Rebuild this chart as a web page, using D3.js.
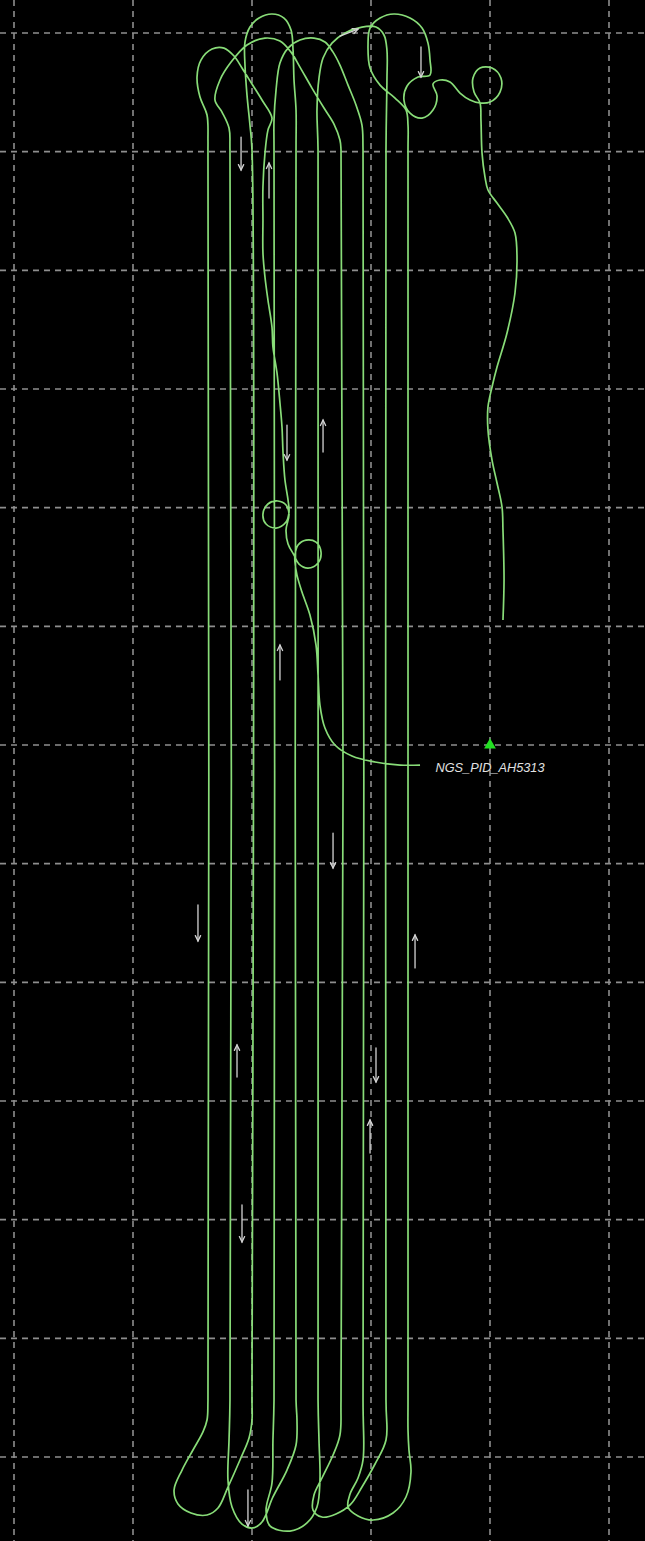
<!DOCTYPE html>
<html>
<head>
<meta charset="utf-8">
<script src="https://cdn.jsdelivr.net/npm/d3@7"></script>
<style>
  html, body { margin: 0; padding: 0; background: #000; }
  svg { display: block; }
</style>
</head>
<body>
<svg id="map" width="645" height="1541"></svg>
<script>
// Grid (local easting / northing, metres)
const gridEast = [0, 100, 200, 300, 400, 500];
const gridNorth = [0, 100, 200, 300, 400, 500, 600, 700, 800, 900, 1000, 1100, 1200];

// Survey lines: easting of each line and the northing where each straight run ends
const lineEast = [163.0, 181.5, 200.0, 218.5, 237.0, 255.5, 274.8, 293.3, 312.6, 331.1];
const lineTopN = 1101.4;
const lineBotN = 48.0;

// Order the lines were flown: [line index, heading]
const lineOrder = [[0, "S"], [2, "N"], [4, "S"], [1, "N"], [6, "S"], [8, "N"], [5, "S"], [3, "N"], [7, "S"], [9, "N"]];

// Inbound leg from the mark, two orbits, then up to the first line
const approachLeg = [
  [341.2, 583.1], [324.4, 583.1], [303.4, 585.7], [284.0, 590.7], [269.7, 600.0], [261.3, 614.3],
  [257.1, 633.7], [255.5, 659.0], [253.8, 684.2], [248.7, 709.5], [242.0, 728.9], [237.8, 743.2],
  [236.1, 754.2], [236.1, 760.1], [238.7, 768.5], [245.4, 772.7], [253.8, 771.0], [258.0, 762.6],
  [255.5, 753.4], [247.1, 749.1], [239.5, 752.5], [235.3, 760.1], [230.3, 769.4], [228.6, 781.2],
  [231.1, 794.6], [228.6, 802.2], [221.8, 805.6], [213.4, 803.1], [209.2, 794.6], [211.8, 786.2],
  [220.2, 782.8], [228.6, 787.9], [231.1, 796.3], [230.3, 806.4], [227.7, 823.3], [226.1, 846.0],
  [225.2, 868.0], [223.5, 888.2], [221.0, 913.5], [217.6, 935.4], [216.8, 952.2], [213.4, 975.0],
  [210.9, 994.4], [209.2, 1014.6], [209.2, 1042.4], [209.2, 1070.2], [210.9, 1098.8], [213.4, 1118.2],
  [216.8, 1128.3], [208.4, 1143.5], [200.0, 1157.0], [191.6, 1170.5], [184.9, 1180.6], [176.5, 1187.3],
  [166.4, 1186.5], [157.1, 1177.2], [153.8, 1162.9], [156.3, 1146.0], [162.2, 1130.9], [163.0, 1109.8]
];

// Turns at the south end
const turnS1 = [[162.2, 31.2], [158.8, 21.1], [150.4, 5.9], [141.2, -11.0], [134.5, -27.8], [137.8, -39.6],
  [148.7, -47.2], [162.2, -48.9], [171.4, -43.0], [179.8, -25.3], [189.9, -2.5], [197.5, 16.0], [200.0, 31.2]];
const turnS2 = [[237.8, 31.2], [237.0, 10.1], [229.4, -11.0], [217.6, -33.7], [208.4, -54.8], [200.8, -59.8],
  [191.6, -56.5], [183.2, -42.1], [179.8, -19.4], [180.7, 14.3]];
const turnS3 = [[273.9, 18.5], [268.1, 1.7], [258.8, -17.7], [252.1, -32.0], [251.3, -44.7], [258.8, -50.6],
  [270.6, -48.0], [282.4, -40.4], [292.4, -25.3], [303.4, -5.9], [312.6, 14.3]];
const turnS4 = [[256.3, 14.3], [257.1, -19.4], [254.6, -42.1], [246.2, -55.6], [231.9, -62.4], [215.1, -58.1],
  [211.8, -44.7], [216.8, -21.9], [217.6, 14.3]];
const turnS5 = [[293.3, -2.5], [289.1, -17.7], [282.4, -31.2], [280.7, -42.1], [289.1, -49.7], [301.7, -53.1],
  [318.5, -47.2], [329.4, -33.7], [333.6, -12.6], [331.9, 5.9], [331.1, 22.8]];

// Turns at the north end
const turnN1 = [[198.3, 1122.4], [195.8, 1147.7], [194.1, 1173.0], [194.1, 1192.4], [198.3, 1205.0], [205.9, 1212.6],
  [216.8, 1216.0], [226.9, 1212.6], [232.8, 1202.5], [234.5, 1185.6], [235.3, 1160.4], [237.0, 1135.1]];
const turnN2 = [[180.7, 1119.9], [174.8, 1133.4], [168.9, 1143.5], [173.1, 1160.4], [182.4, 1175.5], [195.8, 1189.9],
  [210.9, 1195.7], [223.5, 1193.2], [232.8, 1183.9], [240.3, 1171.3], [250.4, 1153.6], [260.5, 1136.8],
  [268.9, 1123.3], [273.9, 1109.8]];
const turnN3 = [[313.4, 1160.4], [313.4, 1185.6], [310.9, 1198.3], [304.2, 1205.0], [292.4, 1205.0], [278.2, 1200.0],
  [267.2, 1191.5], [259.7, 1178.9], [256.3, 1162.0], [254.6, 1135.1]];
const turnN4 = [[218.5, 1126.6], [220.2, 1151.9], [223.5, 1174.7], [230.3, 1187.3], [240.3, 1194.1], [252.1, 1195.7],
  [261.3, 1192.4], [268.1, 1183.9], [273.9, 1173.0], [280.7, 1156.1], [287.4, 1139.3], [292.4, 1122.4]];

// Outbound leg: loop, two orbits, then south-east
const exitLeg = [
  [331.1, 1122.4], [329.4, 1135.1], [320.2, 1145.2], [307.6, 1156.1], [299.2, 1170.5], [297.5, 1189.9],
  [299.2, 1204.2], [307.6, 1212.6], [319.3, 1216.0], [332.8, 1212.6], [342.9, 1204.2], [347.9, 1191.5],
  [349.6, 1177.2], [349.6, 1164.6], [339.5, 1162.9], [330.3, 1155.3], [327.7, 1143.5], [332.8, 1132.5],
  [342.9, 1128.3], [352.1, 1135.1], [355.5, 1146.9], [352.1, 1157.0], [358.0, 1160.4], [366.4, 1158.7],
  [374.8, 1149.4], [383.2, 1143.5], [391.6, 1141.0], [400.0, 1141.8], [408.4, 1150.2], [409.2, 1162.0],
  [401.7, 1170.5], [391.6, 1170.5], [385.7, 1162.0], [386.6, 1150.2], [391.6, 1141.0], [392.4, 1126.6],
  [393.3, 1098.8], [395.8, 1078.6], [398.3, 1067.7], [405.9, 1056.7], [414.3, 1044.9], [421.0, 1031.4],
  [422.7, 1008.7], [421.0, 980.9], [414.3, 947.2], [405.9, 918.5], [401.7, 901.7], [398.3, 884.8],
  [398.3, 865.4], [401.7, 840.1], [405.9, 820.8], [410.1, 800.5], [410.9, 781.2], [411.8, 739.0], [410.9, 705.3]
];

// Heading arrows: [tail easting, tail northing, head easting, head northing]
const arrows = [
  [190.8, 1112.3, 190.8, 1084.5], [214.3, 1060.9, 214.3, 1090.4], [229.4, 869.6, 229.4, 840.1],
  [259.7, 846.9, 259.7, 873.8], [223.5, 654.8, 223.5, 684.2], [268.1, 525.8, 268.1, 496.3],
  [154.6, 465.2, 154.6, 434.8], [337.0, 412.1, 337.0, 439.9], [187.4, 320.2, 187.4, 347.2],
  [304.2, 344.7, 304.2, 316.0], [299.2, 256.2, 299.2, 284.0], [191.6, 212.4, 191.6, 181.2],
  [196.6, -27.8, 196.6, -58.1], [342.0, 1188.2, 342.0, 1162.9], [273.9, 1197.4, 289.1, 1203.3]
];

// Survey mark
const markName = "NGS_PID_AH5313";
const markEast = 400;
const markNorth = 600;

const W = 645, H = 1541;
const svg = d3.select("#map");
svg.append("rect").attr("width", W).attr("height", H).attr("fill", "#000");

const x = d3.scaleLinear().domain([0, 500]).range([14, 609]);
const y = d3.scaleLinear().domain([0, 1200]).range([1457, 33]);

// dashed grid
const grid = svg.append("g").attr("stroke", "#8e8e8e").attr("stroke-width", 1.6).attr("stroke-dasharray", "6,5");
grid.selectAll("line.v").data(gridEast).join("line").attr("class", "v")
  .attr("x1", d => x(d)).attr("x2", d => x(d)).attr("y1", 0).attr("y2", H);
grid.selectAll("line.h").data(gridNorth).join("line").attr("class", "h")
  .attr("y1", d => y(d)).attr("y2", d => y(d)).attr("x1", 0).attr("x2", W);

// assemble the flight track in flown order
function lineLeg(i, dir) {
  const e = lineEast[i];
  return dir === "S" ? [[e, lineTopN], [e, lineBotN]] : [[e, lineBotN], [e, lineTopN]];
}
const turnsAfter = [turnS1, turnN1, turnS2, turnN2, turnS3, turnN3, turnS4, turnN4, turnS5];
let track = approachLeg.slice();
lineOrder.forEach((lo, k) => {
  track = track.concat(lineLeg(lo[0], lo[1]));
  if (k < turnsAfter.length) track = track.concat(turnsAfter[k]);
});
track = track.concat(exitLeg);

const path = d3.line().x(d => x(d[0])).y(d => y(d[1])).curve(d3.curveCatmullRom.alpha(0.5));
svg.append("path").datum(track).attr("d", path)
  .attr("fill", "none").attr("stroke", "#88dc78").attr("stroke-width", 1.7)
  .attr("stroke-linejoin", "round");

// heading arrows
const ag = svg.append("g").attr("stroke", "#d4d4d4").attr("stroke-width", 1.3).attr("fill", "none")
  .attr("stroke-linecap", "round");
arrows.forEach(a => {
  const x0 = x(a[0]), y0 = y(a[1]), x1 = x(a[2]), y1 = y(a[3]);
  const ang = Math.atan2(y1 - y0, x1 - x0);
  const hl = 6, spread = 0.45;
  ag.append("line").attr("x1", x0).attr("y1", y0).attr("x2", x1).attr("y2", y1);
  ag.append("polyline").attr("points", [
    [x1 - hl * Math.cos(ang - spread), y1 - hl * Math.sin(ang - spread)],
    [x1, y1],
    [x1 - hl * Math.cos(ang + spread), y1 - hl * Math.sin(ang + spread)]
  ].map(p => p.join(",")).join(" "));
});

// survey mark and its name
svg.append("path")
  .attr("d", d3.symbol().type(d3.symbolTriangle).size(60)())
  .attr("transform", `translate(${x(markEast)},${y(markNorth)})`)
  .attr("fill", "#22e022");
svg.append("text")
  .attr("x", x(markEast)).attr("y", y(markNorth) + 27)
  .attr("text-anchor", "middle")
  .attr("font-family", "'Liberation Sans', Arial, sans-serif")
  .attr("font-style", "italic").attr("font-size", 12)
  .attr("textLength", 109).attr("lengthAdjust", "spacingAndGlyphs")
  .attr("fill", "#e2e2e2")
  .text(markName);
</script>
</body>
</html>
